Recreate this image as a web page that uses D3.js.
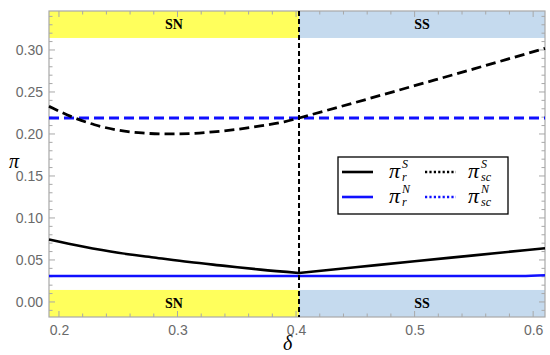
<!DOCTYPE html>
<html><head><meta charset="utf-8">
<script src="https://cdn.jsdelivr.net/npm/d3@7"></script>
<style>body{margin:0;background:#fff}svg{display:block}</style>
</head><body>
<svg id="c" width="550" height="355"></svg>
<script>
// ---- data ----
const xTicks = [0.2, 0.3, 0.4, 0.5, 0.6];
const yTicks = [0.00, 0.05, 0.10, 0.15, 0.20, 0.25, 0.30];
const boundary = 0.4025;
const regimes = ["SN", "SS"];
const deltaScS = [0.1916, 0.21, 0.23, 0.25, 0.27, 0.29, 0.31, 0.33, 0.35, 0.37, 0.39, 0.4025, 0.45, 0.50, 0.55, 0.610];
const piScS    = [0.233, 0.221, 0.211, 0.2045, 0.2012, 0.200, 0.2005, 0.2025, 0.2055, 0.2095, 0.2145, 0.219, 0.2375, 0.2575, 0.2775, 0.302];
const deltaRS  = [0.1916, 0.22, 0.25, 0.28, 0.31, 0.34, 0.37, 0.4025, 0.45, 0.50, 0.55, 0.610];
const piRS     = [0.0744, 0.066, 0.0585, 0.053, 0.0475, 0.043, 0.0385, 0.0345, 0.0413, 0.0485, 0.0555, 0.064];
const deltaRN  = [0.1916, 0.59, 0.610];
const piRN     = [0.031, 0.031, 0.0318];
const deltaScN = [0.1916, 0.610];
const piScN    = [0.219, 0.219];
const bandTop = [0.3143, 0.3464];
const bandBottom = [-0.0179, 0.0143];

// ---- layout ----
const svg = d3.select("#c");
const L = 49, R = 545, T = 11, B = 317;
const x = d3.scaleLinear().domain([0.1916, 0.610]).range([L, R]);
const y = d3.scaleLinear().domain([-0.0179, 0.3464]).range([B, T]);

const yellow = "#ffff5c", lblue = "#c5daee";

// bands
[bandTop, bandBottom].forEach(b => {
  svg.append("rect").attr("x", x(0.1916)).attr("width", x(boundary) - x(0.1916))
    .attr("y", y(b[1])).attr("height", y(b[0]) - y(b[1])).attr("fill", yellow);
  svg.append("rect").attr("x", x(boundary)).attr("width", x(0.610) - x(boundary))
    .attr("y", y(b[1])).attr("height", y(b[0]) - y(b[1])).attr("fill", lblue);
  svg.append("text").attr("x", (x(0.1916) + x(boundary)) / 2).attr("y", (y(b[0]) + y(b[1])) / 2 + 5)
    .attr("text-anchor", "middle").attr("font-family", "Liberation Serif").attr("font-weight", "bold")
    .attr("font-size", 14).text(regimes[0]);
  svg.append("text").attr("x", (x(boundary) + x(0.610)) / 2).attr("y", (y(b[0]) + y(b[1])) / 2 + 5)
    .attr("text-anchor", "middle").attr("font-family", "Liberation Serif").attr("font-weight", "bold")
    .attr("font-size", 14).text(regimes[1]);
});

// frame + ticks
const frameCol = "#a8a8a8";
svg.append("rect").attr("x", L).attr("y", T).attr("width", R - L).attr("height", B - T)
  .attr("fill", "none").attr("stroke", frameCol).attr("stroke-width", 1.2);

const xMinor = d3.range(0.2, 0.6101, 0.02).filter(v => v >= 0.1916);
const yMinor = d3.range(-0.01, 0.3401, 0.01);
const tg = svg.append("g").attr("stroke", frameCol).attr("stroke-width", 1);
xMinor.forEach(v => {
  const major = xTicks.some(t => Math.abs(t - v) < 1e-6);
  const len = major ? 6 : 3.5;
  tg.append("line").attr("x1", x(v)).attr("x2", x(v)).attr("y1", B).attr("y2", B - len);
  tg.append("line").attr("x1", x(v)).attr("x2", x(v)).attr("y1", T).attr("y2", T + len);
});
yMinor.forEach(v => {
  const major = yTicks.some(t => Math.abs(t - v) < 1e-6);
  const len = major ? 6 : 3.5;
  tg.append("line").attr("y1", y(v)).attr("y2", y(v)).attr("x1", L).attr("x2", L + len);
  tg.append("line").attr("y1", y(v)).attr("y2", y(v)).attr("x1", R).attr("x2", R - len);
});

// axes tick labels
const xAxis = d3.axisBottom(x).tickValues(xTicks).tickFormat(d3.format(".1f")).tickSize(0).tickPadding(8);
const gx = svg.append("g").attr("transform", `translate(0,${B})`).call(xAxis);
gx.select(".domain").remove();
gx.selectAll("text").attr("font-family", "Liberation Sans").attr("font-size", 14).attr("fill", "#6a6a6a");
const yAxis = d3.axisLeft(y).tickValues(yTicks).tickFormat(d3.format(".2f")).tickSize(0).tickPadding(6);
const gy = svg.append("g").attr("transform", `translate(${L},0)`).call(yAxis);
gy.select(".domain").remove();
gy.selectAll("text").attr("font-family", "Liberation Sans").attr("font-size", 14).attr("fill", "#6a6a6a");

// axis titles
svg.append("text").attr("x", 9).attr("y", 168).attr("font-family", "Liberation Serif")
  .attr("font-style", "italic").attr("font-size", 20).text("π");
svg.append("text").attr("x", 283).attr("y", 350).attr("font-family", "Liberation Serif")
  .attr("font-style", "italic").attr("font-size", 20).text("δ");

// lines: each curve drawn as two smooth branches joined at the regime boundary
const line = d3.line().x(d => x(d[0])).y(d => y(d[1])).curve(d3.curveMonotoneX);
const zip = (a, b) => a.map((v, i) => [v, b[i]]);
function kinked(xs, ys) {
  const pts = zip(xs, ys);
  const left = pts.filter(p => p[0] <= boundary + 1e-9);
  const right = pts.filter(p => p[0] >= boundary - 1e-9);
  if (left.length < 2 || right.length < 2) return line(pts);
  return line(left) + line(right).replace(/^M/, "L");
}
const plot = svg.append("g").attr("fill", "none");
plot.append("path").attr("d", line(zip(deltaRN, piRN))).attr("stroke", "#1010ff").attr("stroke-width", 2.6);
plot.append("path").attr("d", kinked(deltaRS, piRS)).attr("stroke", "#000").attr("stroke-width", 2.6);
plot.append("path").attr("d", line(zip(deltaScN, piScN))).attr("stroke", "#1010ff").attr("stroke-width", 2.8)
  .attr("stroke-dasharray", "10,5");
plot.append("path").attr("d", kinked(deltaScS, piScS)).attr("stroke", "#000").attr("stroke-width", 2.8)
  .attr("stroke-dasharray", "10,5");
// boundary
plot.append("line").attr("x1", x(boundary)).attr("x2", x(boundary)).attr("y1", T).attr("y2", B)
  .attr("stroke", "#000").attr("stroke-width", 2).attr("stroke-dasharray", "5,3");

// legend
const lg = svg.append("g");
lg.append("rect").attr("x", 338).attr("y", 157).attr("width", 170).attr("height", 57)
  .attr("fill", "#fff").attr("stroke", "#000").attr("stroke-width", 1.3);
const legendRows = [
  {col: "#000", sup: "S"},
  {col: "#1010ff", sup: "N"}
];
legendRows.forEach((r, i) => {
  const cy = 172 + i * 25;
  lg.append("line").attr("x1", 342).attr("x2", 373).attr("y1", cy).attr("y2", cy)
    .attr("stroke", r.col).attr("stroke-width", 2.6);
  lg.append("line").attr("x1", 425).attr("x2", 456).attr("y1", cy).attr("y2", cy)
    .attr("stroke", r.col).attr("stroke-width", 2.6).attr("stroke-dasharray", "2.2,2.2");
  const f = "Liberation Serif";
  lg.append("text").attr("x", 389).attr("y", cy + 6).attr("font-family", f).attr("font-style", "italic")
    .attr("font-size", 22).text("π");
  lg.append("text").attr("x", 402).attr("y", cy - 4).attr("font-family", f).attr("font-style", "italic")
    .attr("font-size", 12).text(r.sup);
  lg.append("text").attr("x", 402).attr("y", cy + 9).attr("font-family", f).attr("font-style", "italic")
    .attr("font-size", 12).text("r");
  lg.append("text").attr("x", 468).attr("y", cy + 6).attr("font-family", f).attr("font-style", "italic")
    .attr("font-size", 22).text("π");
  lg.append("text").attr("x", 481).attr("y", cy - 4).attr("font-family", f).attr("font-style", "italic")
    .attr("font-size", 12).text(r.sup);
  lg.append("text").attr("x", 481).attr("y", cy + 9).attr("font-family", f).attr("font-style", "italic")
    .attr("font-size", 12).text("sc");
});
</script>
</body></html>
